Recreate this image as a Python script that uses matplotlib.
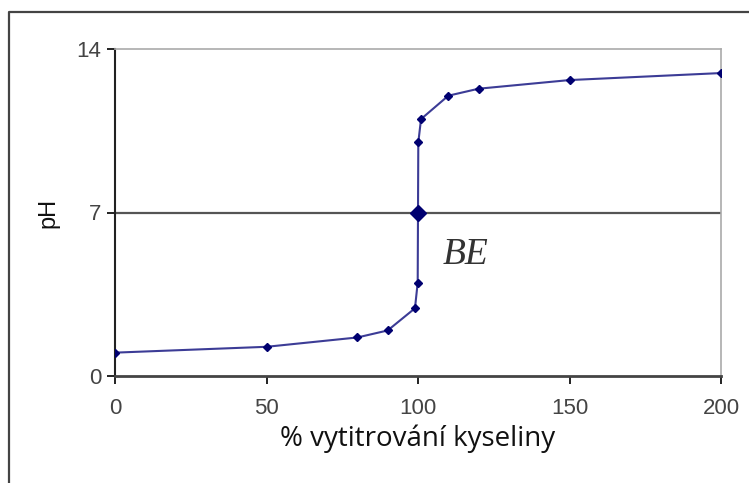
import matplotlib
matplotlib.use("Agg")
from matplotlib import pyplot as plt
from matplotlib.lines import Line2D

# titration curve
percent = [0, 50, 80, 90, 99, 99.9, 100, 100.1, 101, 110, 120, 150, 200]
ph = [1.0, 1.25, 1.65, 1.95, 2.9, 4.0, 7.0, 10.0, 11.0, 12.0, 12.3, 12.67, 12.97]
eq_point = (100, 7)
xticks = [0, 50, 100, 150, 200]
yticks = [0, 7, 14]

fig = plt.figure(figsize=(7.49, 4.83), dpi=100)
ax = fig.add_axes([115 / 749, 1 - 376 / 483, (721 - 115) / 749, (376 - 49) / 483])

# outer frame (left + top only, like the cropped screenshot)
fig.add_artist(Line2D([9 / 749, 9 / 749, 1.0], [0.0, 1 - 12 / 483, 1 - 12 / 483],
                      transform=fig.transFigure, color="#444444", lw=1.6))

ax.axhline(7, color="#555555", lw=1.6, zorder=1)
ax.plot(percent, ph, color="#3c3c96", lw=1.5, marker="D", ms=4.5,
        mfc="#000070", mec="#000070", zorder=3)
ax.plot(*eq_point, marker="D", ms=8.5, color="#000070", zorder=4)

ax.text(108, 5.2, "BE", family="Liberation Serif", style="italic",
        fontsize=27, color="#333333", ha="left", va="center")

ax.set_xlim(0, 200)
ax.set_ylim(0, 14)
ax.set_xticks(xticks)
ax.set_yticks(yticks)

ax.tick_params(axis="both", direction="out", length=6, width=1.4,
               colors="#222222", labelcolor="#444444", labelsize=16)
for lab in ax.get_xticklabels() + ax.get_yticklabels():
    lab.set_family("Liberation Sans")
ax.tick_params(axis="x", pad=10)
ax.tick_params(axis="y", pad=4)

ax.spines[["left"]].set_color("#222222")
ax.spines[["left"]].set_linewidth(1.5)
ax.spines[["bottom"]].set_color("#444444")
ax.spines[["bottom"]].set_linewidth(2)
ax.spines[["top", "right"]].set_color("#aaaaaa")
ax.spines[["top", "right"]].set_linewidth(1.2)

ax.set_xlabel("% vytitrování kyseliny", family="Open Sans", fontsize=20,
              color="#111111", labelpad=4)
ax.set_ylabel("pH", family="Liberation Sans", fontsize=17, color="#111111",
              labelpad=12)

plt.savefig("out.png", dpi=100)
